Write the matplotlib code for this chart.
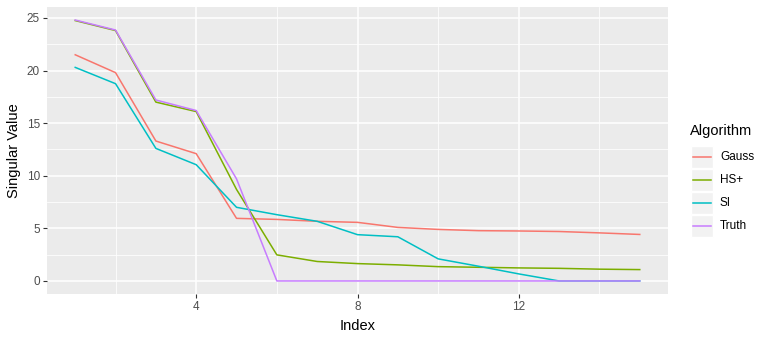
import matplotlib
matplotlib.use("Agg")
import matplotlib.pyplot as plt
from matplotlib.lines import Line2D
from matplotlib.patches import Rectangle

plt.rcParams["font.family"] = ["Liberation Sans", "DejaVu Sans"]

index = list(range(1, 16))
gauss = [21.5, 19.8, 13.3, 12.1, 5.95, 5.85, 5.67, 5.57, 5.09, 4.9, 4.78, 4.75, 4.7, 4.57, 4.42]
hs_plus = [24.75, 23.8, 17.0, 16.1, 8.7, 2.48, 1.85, 1.65, 1.53, 1.36, 1.3, 1.24, 1.2, 1.12, 1.08]
si = [20.3, 18.75, 12.6, 11.05, 7.0, 6.3, 5.67, 4.4, 4.2, 2.1, 1.4, 0.67, 0.0, 0.0, 0.0]
truth = [24.8, 23.85, 17.2, 16.2, 9.7, 0.0, 0.0, 0.0, 0.0, 0.0, 0.0, 0.0, 0.0, 0.0, 0.0]

series = {"Gauss": gauss, "HS+": hs_plus, "SI": si, "Truth": truth}
colors = {"Gauss": "#F8766D", "HS+": "#7CAE00", "SI": "#00BFC4", "Truth": "#C77CFF"}

fig = plt.figure(figsize=(7.7, 3.4), dpi=100)
W, H = 770, 340
ax = fig.add_axes([47 / W, 1 - 294 / H, (668 - 47) / W, (294 - 7) / H])
ax.set_facecolor("#EBEBEB")

for name, vals in series.items():
    ax.plot(index, vals, color=colors[name], lw=1.1, zorder=3)

# ggplot-like 5% expansion
ymax = max(max(v) for v in series.values())
ax.set_xlim(1 - 0.05 * 14, 15 + 0.05 * 14)
ax.set_ylim(-0.05 * ymax, ymax * 1.05)

ax.set_xticks([4, 8, 12])
ax.set_xticks([2, 6, 10, 14], minor=True)
ax.set_yticks([0, 5, 10, 15, 20, 25])
ax.set_yticks([2.5, 7.5, 12.5, 17.5, 22.5], minor=True)
ax.grid(which="major", color="white", lw=1.1, zorder=1)
ax.grid(which="minor", color="white", lw=0.55, zorder=1)
ax.set_axisbelow(True)
for s in ax.spines.values():
    s.set_visible(False)
ax.tick_params(which="major", length=3, width=0.8, color="#333333",
               labelsize=8.5, labelcolor="#4D4D4D", pad=2)
ax.tick_params(which="minor", length=0)

ax.set_xlabel("Index", fontsize=10.5, labelpad=4)
ax.set_ylabel("Singular Value", fontsize=10.5, labelpad=4)

# legend
fig.text(690 / W, 1 - 131 / H, "Algorithm", fontsize=10.5, va="center", ha="left")
for i, name in enumerate(series):
    yc = 157 + 23 * i
    fig.patches.append(Rectangle((691 / W, 1 - (yc + 11) / H), 22 / W, 22 / H,
                                 transform=fig.transFigure, facecolor="#F2F2F2",
                                 edgecolor="white", lw=1))
    fig.lines.append(Line2D([693 / W, 711 / W], [1 - yc / H, 1 - yc / H],
                            transform=fig.transFigure, color=colors[name], lw=1.1))
    fig.text(720 / W, 1 - yc / H, name, fontsize=8.5, va="center", ha="left")

fig.savefig("out.png", dpi=100)
